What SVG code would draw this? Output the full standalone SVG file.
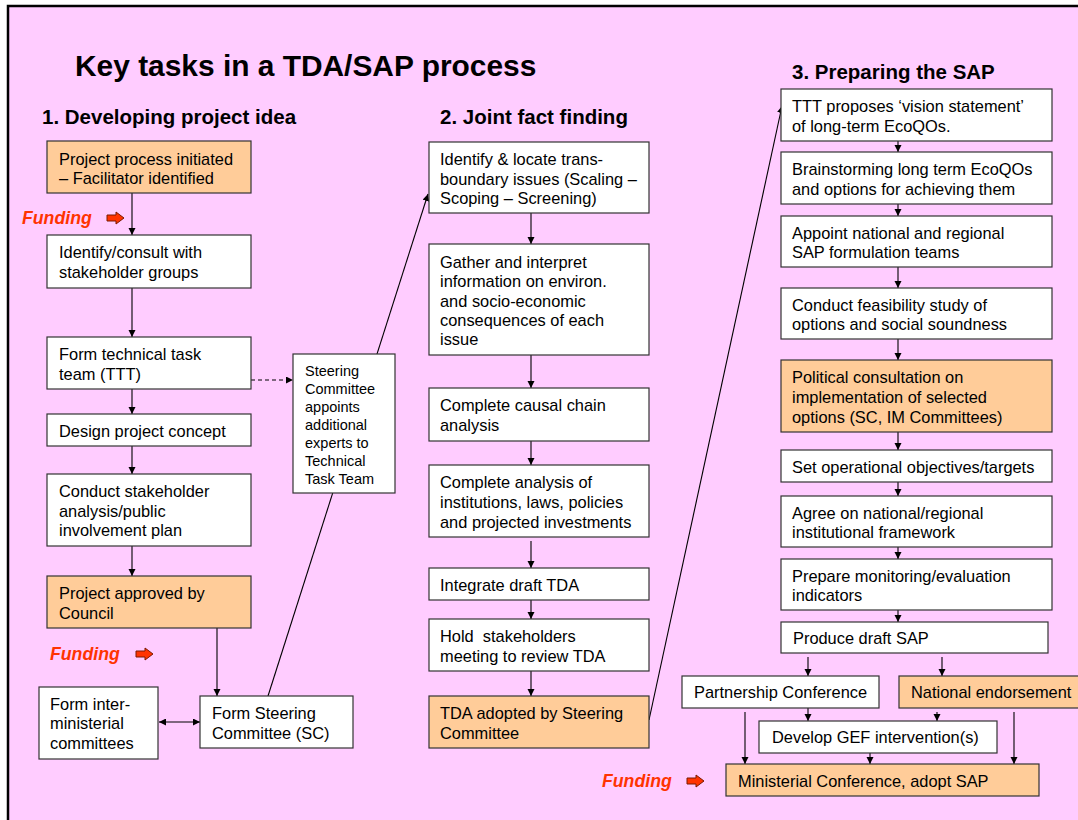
<svg xmlns="http://www.w3.org/2000/svg" width="1078" height="820" viewBox="0 0 1078 820">
<style>
.bx{fill:#FFFFFF;stroke:#333333;stroke-width:1.2}
.or{fill:#FFCC99;stroke:#333333;stroke-width:1.2}
.t{font-family:"Liberation Sans",Arial,sans-serif;font-size:16.4px;fill:#000}
.ts{font-family:"Liberation Sans",Arial,sans-serif;font-size:14.5px;fill:#000}
.h{font-family:"Liberation Sans",Arial,sans-serif;font-size:20.5px;font-weight:bold;fill:#000}
.title{font-family:"Liberation Sans",Arial,sans-serif;font-size:29.9px;font-weight:bold;fill:#000}
.fund{font-family:"Liberation Sans",Arial,sans-serif;font-size:17.7px;font-weight:bold;font-style:italic;fill:#FF3300}
.ra{fill:#FF3300;stroke:#7A1A00;stroke-width:1}
.c{stroke:#000;stroke-width:1.1;fill:none}
</style>
<defs>
<marker id="ah" markerUnits="userSpaceOnUse" markerWidth="8" markerHeight="8" refX="7" refY="3.5" orient="auto">
<path d="M0,0 L7,3.5 L0,7 z" fill="#000"/>
</marker>
<marker id="as" markerUnits="userSpaceOnUse" markerWidth="8" markerHeight="8" refX="0" refY="3.5" orient="auto">
<path d="M7,0 L0,3.5 L7,7 z" fill="#000"/>
</marker>
</defs>
<rect x="0" y="0" width="1078" height="820" fill="#FFFFFF"/>
<rect x="8" y="6" width="1090" height="840" fill="#FFCCFF" stroke="#000" stroke-width="2.5"/>

<g id="headings">
<text class="title" x="75" y="76">Key tasks in a TDA/SAP process</text>
<text class="h" x="42" y="124">1. Developing project idea</text>
<text class="h" x="440" y="124">2. Joint fact finding</text>
<text class="h" x="792" y="79">3. Preparing the SAP</text>
</g>

<g id="connectors">
<line class="c" x1="132" y1="193" x2="132" y2="235" marker-end="url(#ah)"/>
<line class="c" x1="132" y1="288" x2="132" y2="337" marker-end="url(#ah)"/>
<line class="c" x1="132" y1="389" x2="132" y2="414" marker-end="url(#ah)"/>
<line class="c" x1="132" y1="446" x2="132" y2="474" marker-end="url(#ah)"/>
<line class="c" x1="132" y1="546" x2="132" y2="576" marker-end="url(#ah)"/>
<line class="c" x1="217" y1="628" x2="217" y2="696" marker-end="url(#ah)"/>
<line class="c" x1="159" y1="722" x2="200" y2="722" marker-start="url(#as)" marker-end="url(#ah)"/>
<line class="c" x1="251" y1="380" x2="293" y2="380" stroke-dasharray="4,3" marker-end="url(#ah)"/>
<line class="c" x1="268" y1="696" x2="428" y2="194" marker-end="url(#ah)"/>
<line class="c" x1="531" y1="213" x2="531" y2="244" marker-end="url(#ah)"/>
<line class="c" x1="531" y1="355" x2="531" y2="388" marker-end="url(#ah)"/>
<line class="c" x1="531" y1="441" x2="531" y2="465" marker-end="url(#ah)"/>
<line class="c" x1="531" y1="541" x2="531" y2="568" marker-end="url(#ah)"/>
<line class="c" x1="531" y1="600" x2="531" y2="619" marker-end="url(#ah)"/>
<line class="c" x1="531" y1="671" x2="531" y2="696" marker-end="url(#ah)"/>
<line class="c" x1="649" y1="720" x2="782" y2="106" marker-end="url(#ah)"/>
<line class="c" x1="898" y1="141" x2="898" y2="152" marker-end="url(#ah)"/>
<line class="c" x1="898" y1="204" x2="898" y2="216" marker-end="url(#ah)"/>
<line class="c" x1="898" y1="267" x2="898" y2="288" marker-end="url(#ah)"/>
<line class="c" x1="898" y1="339" x2="898" y2="360" marker-end="url(#ah)"/>
<line class="c" x1="898" y1="432" x2="898" y2="450" marker-end="url(#ah)"/>
<line class="c" x1="898" y1="482" x2="898" y2="496" marker-end="url(#ah)"/>
<line class="c" x1="898" y1="547" x2="898" y2="559" marker-end="url(#ah)"/>
<line class="c" x1="898" y1="610" x2="898" y2="622" marker-end="url(#ah)"/>
<line class="c" x1="808" y1="657" x2="808" y2="676" marker-end="url(#ah)"/>
<line class="c" x1="942" y1="657" x2="942" y2="676" marker-end="url(#ah)"/>
<line class="c" x1="808" y1="704" x2="808" y2="721" marker-end="url(#ah)"/>
<line class="c" x1="937" y1="712" x2="937" y2="721" marker-end="url(#ah)"/>
<line class="c" x1="745" y1="712" x2="745" y2="764" marker-end="url(#ah)"/>
<line class="c" x1="870" y1="753" x2="870" y2="764" marker-end="url(#ah)"/>
<line class="c" x1="1014" y1="712" x2="1014" y2="764" marker-end="url(#ah)"/>
</g>

<g id="funding1">
<text class="fund" x="22" y="224">Funding</text>
<polygon class="ra" points="107,215 116,215 116,212 124,218 116,224 116,221 107,221"/>
</g>
<g id="funding2">
<text class="fund" x="50" y="660">Funding</text>
<polygon class="ra" points="136,651 145,651 145,648 153,654 145,660 145,657 136,657"/>
</g>
<g id="funding3">
<text class="fund" x="602" y="787">Funding</text>
<polygon class="ra" points="687,778 696,778 696,775 704,781 696,787 696,784 687,784"/>
</g>

<g id="n1"><rect class="or" x="47" y="141" width="204" height="52"/>
<text class="t" x="59" y="165">Project process initiated</text><text class="t" x="59" y="184">– Facilitator identified</text></g>
<g id="n2"><rect class="bx" x="47" y="235" width="204" height="53"/>
<text class="t" x="59" y="258">Identify/consult with</text><text class="t" x="59" y="278">stakeholder groups</text></g>
<g id="n3"><rect class="bx" x="47" y="337" width="204" height="52"/>
<text class="t" x="59" y="360">Form technical task</text><text class="t" x="59" y="380">team (TTT)</text></g>
<g id="n4"><rect class="bx" x="47" y="414" width="204" height="32"/>
<text class="t" x="59" y="437">Design project concept</text></g>
<g id="n5"><rect class="bx" x="47" y="474" width="204" height="72"/>
<text class="t" x="59" y="497">Conduct stakeholder</text><text class="t" x="59" y="517">analysis/public</text><text class="t" x="59" y="536">involvement plan</text></g>
<g id="n6"><rect class="or" x="47" y="576" width="204" height="52"/>
<text class="t" x="59" y="599">Project approved by</text><text class="t" x="59" y="619">Council</text></g>
<g id="n7"><rect class="bx" x="200" y="696" width="153" height="52"/>
<text class="t" x="212" y="719">Form Steering</text><text class="t" x="212" y="739">Committee (SC)</text></g>
<g id="n8"><rect class="bx" x="39" y="687" width="119" height="72"/>
<text class="t" x="50" y="710">Form inter-</text><text class="t" x="50" y="729">ministerial</text><text class="t" x="50" y="749">committees</text></g>
<g id="side"><rect class="bx" x="293" y="354" width="102" height="139"/>
<text class="ts" x="305" y="376">Steering</text><text class="ts" x="305" y="394">Committee</text><text class="ts" x="305" y="412">appoints</text><text class="ts" x="305" y="430">additional</text><text class="ts" x="305" y="448">experts to</text><text class="ts" x="305" y="466">Technical</text><text class="ts" x="305" y="484">Task Team</text></g>

<g id="m1"><rect class="bx" x="429" y="142" width="220" height="71"/>
<text class="t" x="440" y="165">Identify &amp; locate trans-</text><text class="t" x="440" y="185">boundary issues (Scaling –</text><text class="t" x="440" y="204">Scoping – Screening)</text></g>
<g id="m2"><rect class="bx" x="429" y="244" width="220" height="111"/>
<text class="t" x="440" y="268">Gather and interpret</text><text class="t" x="440" y="287">information on environ.</text><text class="t" x="440" y="307">and socio-economic</text><text class="t" x="440" y="326">consequences of each</text><text class="t" x="440" y="345">issue</text></g>
<g id="m3"><rect class="bx" x="429" y="388" width="220" height="53"/>
<text class="t" x="440" y="411">Complete causal chain</text><text class="t" x="440" y="431">analysis</text></g>
<g id="m4"><rect class="bx" x="429" y="465" width="220" height="72"/>
<text class="t" x="440" y="488">Complete analysis of</text><text class="t" x="440" y="508">institutions, laws, policies</text><text class="t" x="440" y="528">and projected investments</text></g>
<g id="m5"><rect class="bx" x="429" y="568" width="220" height="32"/>
<text class="t" x="440" y="591">Integrate draft TDA</text></g>
<g id="m6"><rect class="bx" x="429" y="619" width="220" height="52"/>
<text class="t" x="440" y="642">Hold&#160; stakeholders</text><text class="t" x="440" y="662">meeting to review TDA</text></g>
<g id="m7"><rect class="or" x="429" y="696" width="220" height="52"/>
<text class="t" x="440" y="719">TDA adopted by Steering</text><text class="t" x="440" y="739">Committee</text></g>

<g id="r1"><rect class="bx" x="781" y="89" width="271" height="52"/>
<text class="t" x="792" y="112">TTT proposes ‘vision statement’</text><text class="t" x="792" y="132">of long-term EcoQOs.</text></g>
<g id="r2"><rect class="bx" x="781" y="152" width="271" height="52"/>
<text class="t" x="792" y="175">Brainstorming long term EcoQOs</text><text class="t" x="792" y="195">and options for achieving them</text></g>
<g id="r3"><rect class="bx" x="781" y="216" width="271" height="51"/>
<text class="t" x="792" y="239">Appoint national and regional</text><text class="t" x="792" y="258">SAP formulation teams</text></g>
<g id="r4"><rect class="bx" x="781" y="288" width="271" height="51"/>
<text class="t" x="792" y="311">Conduct feasibility study of</text><text class="t" x="792" y="330">options and social soundness</text></g>
<g id="r5"><rect class="or" x="781" y="360" width="271" height="72"/>
<text class="t" x="792" y="383">Political consultation on</text><text class="t" x="792" y="403">implementation of selected</text><text class="t" x="792" y="423">options (SC, IM Committees)</text></g>
<g id="r6"><rect class="bx" x="781" y="450" width="271" height="32"/>
<text class="t" x="792" y="473">Set operational objectives/targets</text></g>
<g id="r7"><rect class="bx" x="781" y="496" width="271" height="51"/>
<text class="t" x="792" y="519">Agree on national/regional</text><text class="t" x="792" y="538">institutional framework</text></g>
<g id="r8"><rect class="bx" x="781" y="559" width="271" height="51"/>
<text class="t" x="792" y="582">Prepare monitoring/evaluation</text><text class="t" x="792" y="601">indicators</text></g>
<g id="r9"><rect class="bx" x="781" y="622" width="267" height="31"/>
<text class="t" x="793" y="644">Produce draft SAP</text></g>
<g id="b1"><rect class="bx" x="682" y="676" width="197" height="32"/>
<text class="t" x="694" y="698">Partnership Conference</text></g>
<g id="b2"><rect class="or" x="899" y="676" width="190" height="32"/>
<text class="t" x="911" y="698">National endorsement</text></g>
<g id="b3"><rect class="bx" x="759" y="721" width="238" height="32"/>
<text class="t" x="772" y="743">Develop GEF intervention(s)</text></g>
<g id="b4"><rect class="or" x="726" y="764" width="313" height="32"/>
<text class="t" x="738" y="787">Ministerial Conference, adopt SAP</text></g>
</svg>
